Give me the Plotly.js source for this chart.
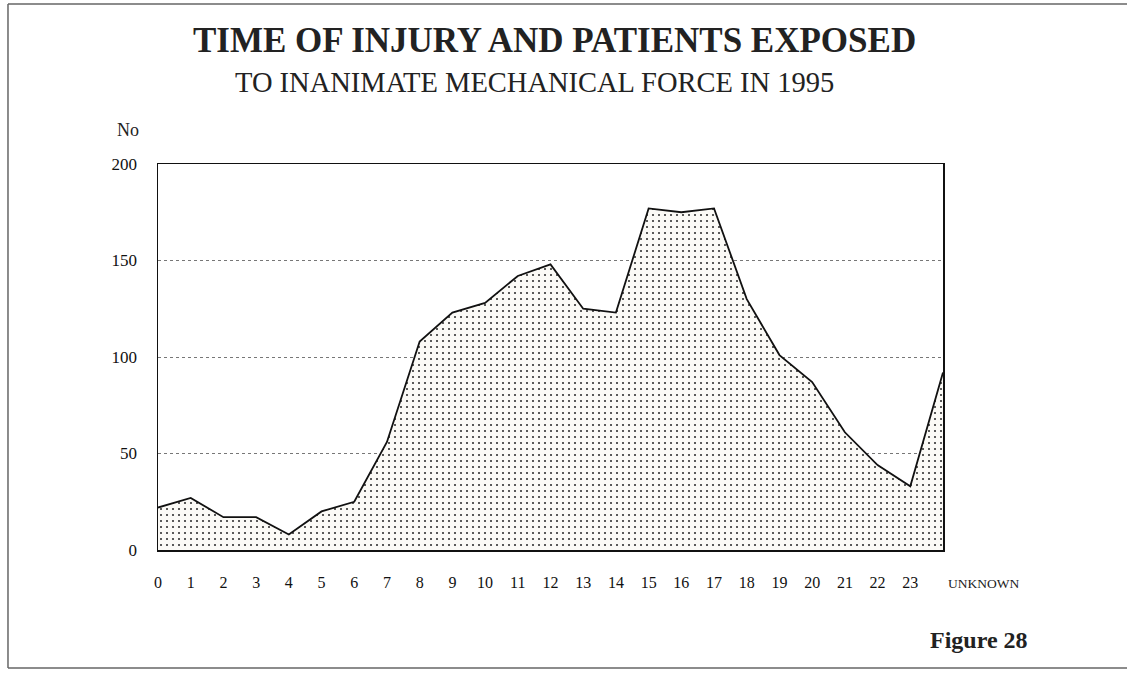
<!DOCTYPE html>
<html>
<head>
<meta charset="utf-8">
<script src="https://cdn.plot.ly/plotly-3.0.1.min.js"></script>
<style>html,body{margin:0;padding:0;background:#fff;}#chart{width:1127px;height:673px;}</style>
</head>
<body>
<div id="chart"></div>
<script>
// Hour of injury (categories) and number of patients
var hours = ['0','1','2','3','4','5','6','7','8','9','10','11','12','13','14','15','16','17','18','19','20','21','22','23','UNKNOWN'];
var patients = [22, 27, 17, 17, 8, 20, 25, 56, 108, 123, 128, 142, 148, 125, 123, 177, 175, 177, 130, 101, 87, 61, 44, 33, 92];
var yTicks = [0, 50, 100, 150, 200];

var titleLine1 = 'TIME OF INJURY AND PATIENTS EXPOSED';
var titleLine2 = 'TO INANIMATE MECHANICAL FORCE IN 1995';
var yUnit = 'No';
var figureLabel = 'Figure 28';

var serif = '"Liberation Serif", "Times New Roman", serif';

var trace = {
  x: hours,
  y: patients,
  type: 'scatter',
  mode: 'lines',
  fill: 'tozeroy',
  line: {color: '#111', width: 1.8},
  fillcolor: '#fbfaf6',
  fillpattern: {shape: '.', size: 6, solidity: 0.1, fgcolor: '#333', bgcolor: '#fbfaf6'},
  hoverinfo: 'x+y'
};

var frameLine = {color: '#666', width: 1.5};

var layout = {
  width: 1127,
  height: 673,
  margin: {l: 158, r: 184, t: 164, b: 123},
  paper_bgcolor: '#ffffff',
  plot_bgcolor: '#ffffff',
  showlegend: false,
  font: {family: serif, color: '#111', size: 16},
  xaxis: {
    type: 'category',
    range: [0, hours.length - 1],
    tickmode: 'array',
    tickvals: hours.slice(0, hours.length - 1),
    ticktext: hours.slice(0, hours.length - 1),
    showgrid: false,
    zeroline: false,
    showline: true,
    linecolor: '#111',
    linewidth: 1.5,
    mirror: true,
    ticks: 'outside',
    ticklen: 17,
    tickcolor: 'rgba(0,0,0,0)',
    tickfont: {family: serif, size: 16, color: '#111'},
    fixedrange: true
  },
  yaxis: {
    range: [0, 200],
    tickmode: 'array',
    tickvals: yTicks,
    ticktext: yTicks.map(String),
    showgrid: true,
    gridcolor: '#777',
    griddash: 'dot',
    gridwidth: 1,
    zeroline: false,
    showline: true,
    linecolor: '#111',
    linewidth: 1.5,
    mirror: true,
    ticks: 'outside',
    ticklen: 16,
    tickcolor: 'rgba(0,0,0,0)',
    tickfont: {family: serif, size: 17, color: '#111'},
    fixedrange: true
  },
  shapes: [
    {type: 'line', xref: 'paper', yref: 'paper', x0: -0.1911, x1: -0.1911, y0: -0.3057, y1: 1.4145, line: frameLine, layer: 'below'},
    {type: 'line', xref: 'paper', yref: 'paper', x0: -0.1911, x1: 1.25, y0: 1.4145, y1: 1.4145, line: frameLine, layer: 'below'},
    {type: 'line', xref: 'paper', yref: 'paper', x0: -0.1911, x1: 1.25, y0: -0.3057, y1: -0.3057, line: frameLine, layer: 'below'}
  ],
  annotations: [
    {text: '<b>' + titleLine1 + '</b>', xref: 'paper', yref: 'paper', x: 0.5057, y: 1.321,
     xanchor: 'center', yanchor: 'middle', showarrow: false, font: {family: serif, size: 35, color: '#222'}},
    {text: titleLine2, xref: 'paper', yref: 'paper', x: 0.480, y: 1.2124,
     xanchor: 'center', yanchor: 'middle', showarrow: false, font: {family: serif, size: 28.5, color: '#222'}},
    {text: yUnit, xref: 'paper', yref: 'paper', x: -0.0548, y: 1.088,
     xanchor: 'left', yanchor: 'middle', showarrow: false, font: {family: serif, size: 18, color: '#222'}},
    {text: hours[hours.length - 1], xref: 'x', yref: 'paper', x: hours.length - 1, y: -0.0855,
     xanchor: 'left', yanchor: 'middle', xshift: 3, showarrow: false, font: {family: serif, size: 13.5, color: '#222'}},
    {text: '<b>' + figureLabel + '</b>', xref: 'paper', yref: 'paper', x: 1.1108, y: -0.2332,
     xanchor: 'right', yanchor: 'middle', showarrow: false, font: {family: serif, size: 24, color: '#222'}}
  ]
};

Plotly.newPlot('chart', [trace], layout, {displayModeBar: false, staticPlot: true});
</script>
</body>
</html>
